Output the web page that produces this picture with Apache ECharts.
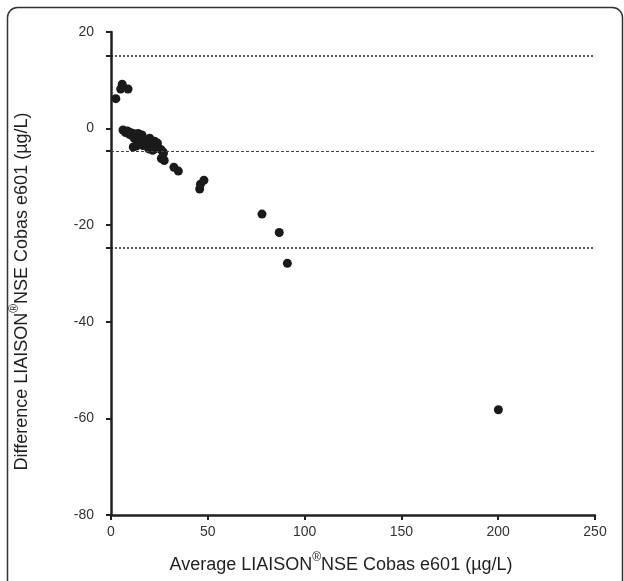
<!DOCTYPE html>
<html>
<head>
<meta charset="utf-8">
<script src="https://cdn.jsdelivr.net/npm/echarts@6/dist/echarts.min.js"></script>
<style>html,body{margin:0;padding:0;background:#fff;}#c{width:624px;height:581px;}</style>
</head>
<body>
<div id="c"></div>
<script>
// Bland-Altman points: average (x) and difference (y)
const avgValues = [2.5, 5.8, 5.0, 8.8,
  6.2, 7.5, 8.5, 9.5, 10, 11, 11.5, 12, 13, 13.5, 14, 15, 15.5, 16, 17, 17.5,
  18.5, 19, 20, 20.5, 21, 22.5, 23, 24, 24.5, 26, 27, 26, 27.5, 11.5, 13, 16.5,
  19.5, 21.5, 22.7, 27, 32.5, 34.8,
  45.8, 46.2, 48, 78, 86.9, 91.1, 200.1];
const diffValues = [6.2, 9.2, 8.2, 8.2,
  -0.3, -0.8, -0.5, -1.2, -0.8, -1.5, -1.0, -2.0, -1.4, -2.3, -1.0, -1.8, -2.6, -1.3, -2.2, -3.0,
  -2.5, -3.3, -2.0, -2.8, -3.6, -2.6, -3.2, -3.0, -4.0, -4.4, -5.2, -6.2, -6.6, -3.8, -3.6, -3.5,
  -4.2, -4.5, -4.2, -4.9, -8.0, -8.8,
  -12.5, -11.5, -10.7, -17.7, -21.5, -27.9, -58.2];
// Limits of agreement: upper, mean bias, lower
const limitValues = [15.0, -4.6, -24.6];
const xTicks = [0, 50, 100, 150, 200, 250];
const yTicks = [-80, -60, -40, -20, 0, 20];

const points = avgValues.map((v, i) => [v, diffValues[i]]);
const font = 'Liberation Sans, Arial, sans-serif';
const ink = '#231f20';

const chart = echarts.init(document.getElementById('c'), null, {renderer: 'canvas'});
chart.setOption({
  animation: false,
  backgroundColor: '#fff',
  graphic: [{
    type: 'rect', left: 5, top: 5, silent: true,
    shape: {width: 615, height: 620, r: 10},
    style: {fill: 'none', stroke: '#333', lineWidth: 1.5}
  }],
  grid: {left: 111, right: 29, top: 32, bottom: 66},
  xAxis: {
    type: 'value', min: xTicks[0], max: xTicks[xTicks.length - 1], interval: 50,
    axisLine: {onZero: false, lineStyle: {color: ink, width: 2.5}},
    axisTick: {length: 5, lineStyle: {color: ink, width: 2}},
    splitLine: {show: false},
    axisLabel: {color: '#333', fontSize: 14, fontFamily: font, margin: 10},
    name: '{a|Average LIAISON}{s|®}{a|NSE Cobas e601 (µg/L)}',
    nameLocation: 'middle', nameGap: 37,
    nameTextStyle: {
      padding: [0, 24, 0, 0],
      rich: {
        a: {fontSize: 18, fontFamily: font, color: ink, lineHeight: 22, verticalAlign: 'bottom'},
        s: {fontSize: 12, fontFamily: font, color: ink, lineHeight: 22, verticalAlign: 'top'}
      }
    }
  },
  yAxis: [{
    type: 'value', min: yTicks[0], max: yTicks[yTicks.length - 1], interval: 20,
    axisLine: {onZero: false, lineStyle: {color: ink, width: 2.5}},
    axisTick: {length: 5, lineStyle: {color: ink, width: 2}},
    splitLine: {show: false},
    axisLabel: {color: '#333', fontSize: 14, fontFamily: font, margin: 17},
    name: '{a|Difference LIAISON}{s|®}{a|NSE Cobas e601 (µg/L)}',
    nameLocation: 'middle', nameGap: 80, nameRotate: 90,
    nameTextStyle: {
      padding: [0, 36, 0, 0],
      rich: {
        a: {fontSize: 18, fontFamily: font, color: ink, lineHeight: 22, verticalAlign: 'bottom'},
        s: {fontSize: 12, fontFamily: font, color: ink, lineHeight: 22, verticalAlign: 'top'}
      }
    }
  }, {
    type: 'value', position: 'left', min: yTicks[0], max: yTicks[yTicks.length - 1],
    axisLine: {show: false},
    axisTick: {show: true, length: 5, customValues: limitValues, lineStyle: {color: ink, width: 2}},
    axisLabel: {show: false},
    splitLine: {show: false}
  }],
  series: [{
    type: 'scatter',
    data: points,
    symbol: 'circle', symbolSize: 9,
    itemStyle: {color: '#1a1a1a', opacity: 1},
    markLine: {
      silent: true, symbol: 'none', label: {show: false},
      data: [
        {yAxis: limitValues[0], lineStyle: {type: [2, 2], width: 1.6, color: '#222'}},
        {yAxis: limitValues[1], lineStyle: {type: [3, 2], width: 1, color: '#444'}},
        {yAxis: limitValues[2], lineStyle: {type: [2, 2], width: 1.6, color: '#222'}}
      ]
    }
  }]
});
</script>
</body>
</html>
